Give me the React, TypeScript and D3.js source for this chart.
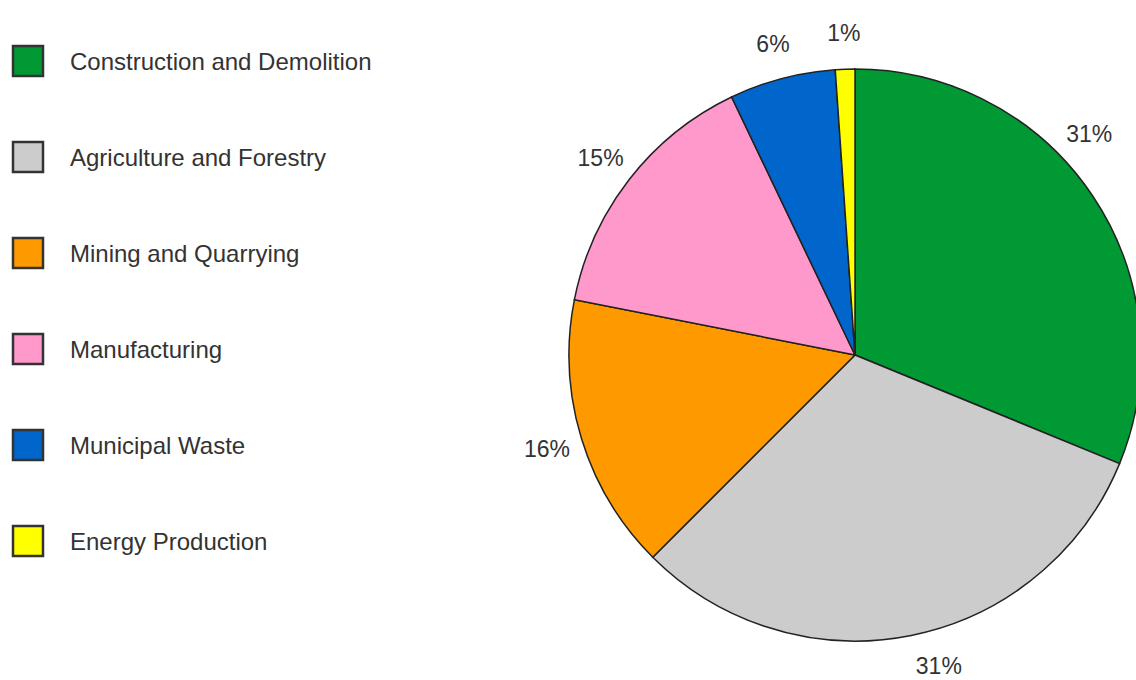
import React from "react";
import * as d3 from "d3";

const categories = [
  "Construction and Demolition",
  "Agriculture and Forestry",
  "Mining and Quarrying",
  "Manufacturing",
  "Municipal Waste",
  "Energy Production",
];
const shares = [31.2, 31.3, 15.6, 14.8, 6.0, 1.1];
const colors = ["#009933", "#cccccc", "#ff9900", "#ff99cc", "#0066cc", "#ffff00"];

const W = 1136;
const H = 680;

export default function App() {
  const cx = 855;
  const cy = 355;
  const r = 286;
  const labelR = 322;
  const data = categories.map((c, i) => ({ c, v: shares[i], color: colors[i] }));
  const pie = d3.pie<any>().value((d: any) => d.v).sort(null);
  const arcs = pie(data);
  const arc = d3.arc<any>().innerRadius(0).outerRadius(r);
  const total = d3.sum(shares);
  const fmt = (v: number) => `${Math.round((v / total) * 100)}%`;
  const legendY = d3.scalePoint<number>().domain(d3.range(categories.length)).range([61, 541]);

  // keep labels inside the frame by sliding them along the label circle
  const maxX = W - cx - 46;
  const maxY = H - cy - 14;
  const labelPos = (a: any) => {
    let t = (a.startAngle + a.endAngle) / 2;
    const step = Math.PI / 720;
    for (let k = 0; k < 400; k++) {
      const x = labelR * Math.sin(t);
      const y = -labelR * Math.cos(t);
      if (x > maxX) {
        t += t < Math.PI / 2 ? -step : step;
      } else if (y > maxY) {
        t += t < Math.PI ? -step : step;
      } else {
        return [x, y];
      }
    }
    return [labelR * Math.sin(t), -labelR * Math.cos(t)];
  };

  return (
    <div style={{ position: "fixed", left: 0, top: 0 }}>
      <svg width={W} height={H} style={{ display: "block", background: "#fff" }}>
        <g transform={`translate(${cx},${cy})`}>
          {arcs.map((a, i) => (
            <path key={i} d={arc(a) as string} fill={a.data.color} stroke="#222" strokeWidth={1.5} />
          ))}
          {arcs.map((a, i) => {
            const [x, y] = labelPos(a);
            return (
              <text
                key={i}
                x={x}
                y={y}
                textAnchor="middle"
                dominantBaseline="central"
                fontFamily="Liberation Sans, Arial, sans-serif"
                fontSize={23}
                fill="#333"
              >
                {fmt(a.data.v)}
              </text>
            );
          })}
        </g>
        <g>
          {categories.map((c, i) => {
            const y = legendY(i) as number;
            return (
              <g key={c} transform={`translate(0,${y})`}>
                <rect x={13} y={-15} width={30} height={30} fill={colors[i]} stroke="#333" strokeWidth={2.5} />
                <text
                  x={70}
                  y={0}
                  dominantBaseline="central"
                  fontFamily="Liberation Sans, Arial, sans-serif"
                  fontSize={24}
                  fill="#333"
                >
                  {c}
                </text>
              </g>
            );
          })}
        </g>
      </svg>
    </div>
  );
}
